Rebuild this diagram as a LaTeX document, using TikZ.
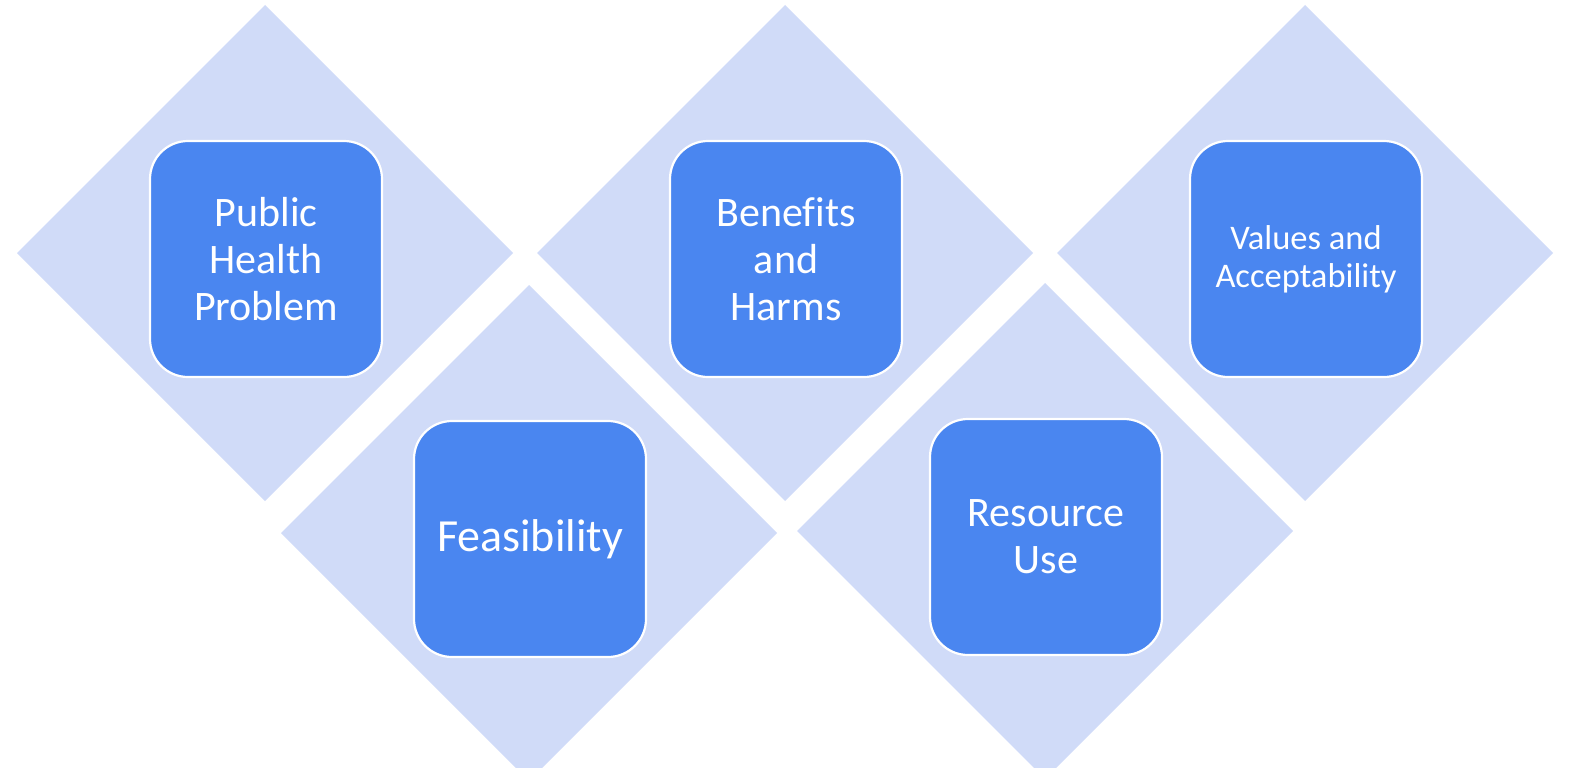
\documentclass[tikz,border=0pt]{standalone}
\usepackage{fontspec}
\setmainfont[Ligatures=NoCommon]{Carlito}
\definecolor{diamondblue}{RGB}{208,219,248}
\definecolor{boxblue}{RGB}{74,134,240}
\begin{document}
\begin{tikzpicture}[x=1bp,y=-1bp,
  diam/.style={fill=diamondblue},
  card/.style={draw=white, line width=2.2bp, fill=boxblue, rounded corners=38bp,
    minimum width=232bp, minimum height=236bp, text=white, align=center,
    font=\fontsize{42bp}{47bp}\selectfont, inner sep=0pt},
  cardsmall/.style={card, font=\fontsize{34.5bp}{38bp}\selectfont},
  cardlarge/.style={card, font=\fontsize{46bp}{50bp}\selectfont}]
\useasboundingbox (0,0) rectangle (1575,768);
\clip (0,0) rectangle (1575,768);
% diamonds
\fill[diam] (265,5) -- (513,253) -- (265,501) -- (17,253) -- cycle;
\fill[diam] (785,5) -- (1033,253) -- (785,501) -- (537,253) -- cycle;
\fill[diam] (1305,5) -- (1553,253) -- (1305,501) -- (1057,253) -- cycle;
\fill[diam] (529,285) -- (777,533) -- (529,781) -- (281,533) -- cycle;
\fill[diam] (1045,283) -- (1293,531) -- (1045,779) -- (797,531) -- cycle;
% boxes
\node[card] (php) at (266,259) {Public\\Health\\Problem};
\node[card] (bh) at (786,259) {Benefits\\and\\Harms};
\node[cardsmall] (va) at (1306,259) {Values and\\Acceptability};
\node[cardlarge] (fe) at (530,539) {Feasibility};
\node[card] (ru) at (1046,537) {Resource\\Use};
\end{tikzpicture}
\end{document}
